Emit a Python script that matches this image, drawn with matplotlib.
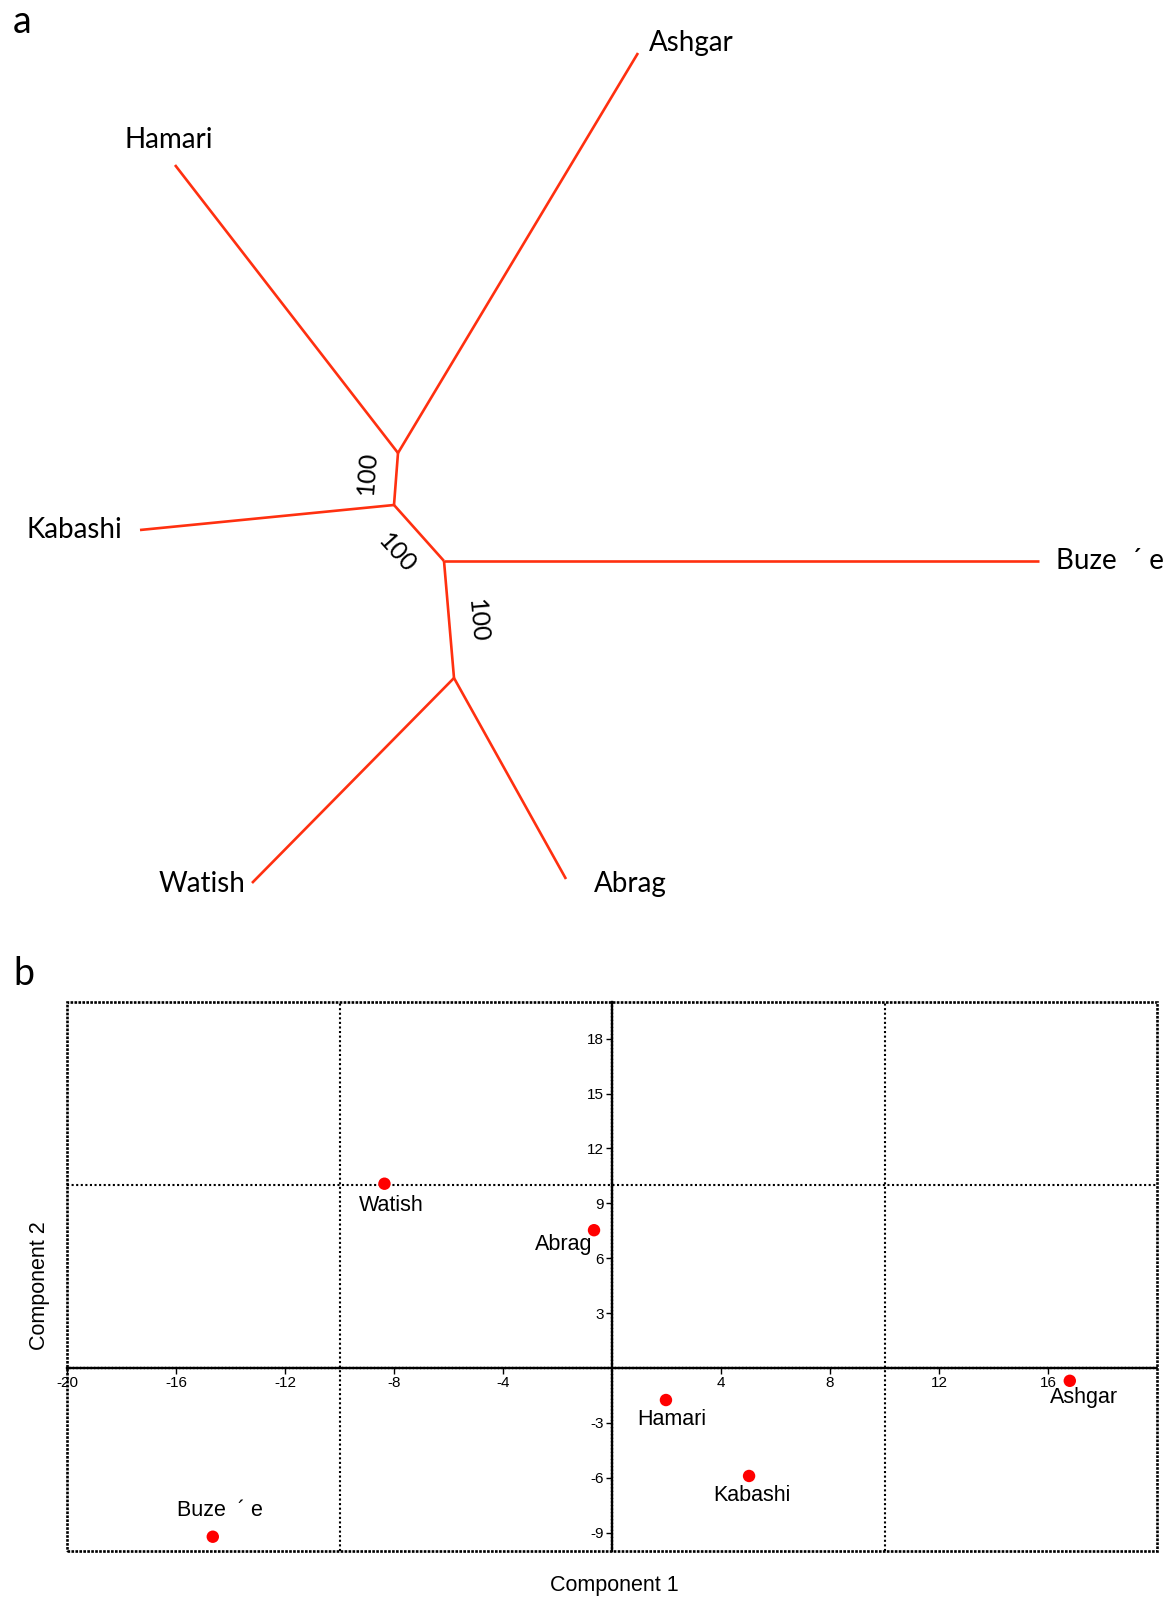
import numpy as np
import matplotlib.pyplot as plt
from matplotlib.patches import Rectangle

W, H = 1164, 1600

# ---- panel a: unrooted tree (layout units = pixels, y downwards) ----
tip_names = ['Ashgar', 'Hamari', 'Kabashi', 'Buze  \u00b4 e', 'Watish', 'Abrag']
tip_x = [638, 175, 140, 1039, 252, 566]
tip_y = [53, 165, 530, 561, 883, 879]
tip_parent = [0, 0, 1, 2, 3, 3]
inner_x = [398, 394, 444, 454]
inner_y = [453, 505, 561, 678]
inner_edges = [(0, 1), (1, 2), (2, 3)]
bootstrap = [100, 100, 100]

# ---- panel b: PCA ----
pop_names = ['Watish', 'Abrag', 'Hamari', 'Kabashi', 'Ashgar', 'Buze  \u00b4 e']
pc1 = [-8.35, -0.66, 1.98, 5.03, 16.8, -14.65]
pc2 = [10.07, 7.53, -1.75, -5.9, -0.7, -9.22]
xticks = [-20, -16, -12, -8, -4, 4, 8, 12, 16]
yticks = [-9, -6, -3, 3, 6, 9, 12, 15, 18]

red_line = '#ff3010'
tree_font = 'Lato'
pca_font = 'Liberation Sans'

fig = plt.figure(figsize=(W / 100, H / 100), dpi=100)

# tree axes covers top part of figure in pixel units
top_h = 940
axa = fig.add_axes([0, 1 - top_h / H, 1, top_h / H])
axa.set_xlim(0, W)
axa.set_ylim(top_h, 0)
axa.axis('off')

for i in range(len(tip_names)):
    p = tip_parent[i]
    axa.plot([tip_x[i], inner_x[p]], [tip_y[i], inner_y[p]], color=red_line,
             lw=1.9, solid_capstyle='butt')
for a, b in inner_edges:
    axa.plot([inner_x[a], inner_x[b]], [inner_y[a], inner_y[b]], color=red_line,
             lw=1.9, solid_capstyle='butt')

# label placement: (dx, dy, ha)
tip_place = {
    'Ashgar': (11, -10, 'left'),
    'Hamari': (-6, -25, 'center'),
    'Kabashi': (-18, 0, 'right'),
    'Buze  \u00b4 e': (17, 0, 'left'),
    'Watish': (-7, 1, 'right'),
    'Abrag': (28, 5, 'left'),
}
for i, name in enumerate(tip_names):
    dx, dy, ha = tip_place[name]
    axa.text(tip_x[i] + dx, tip_y[i] + dy, name, ha=ha, va='center',
             fontsize=20, family=tree_font)

boot_off = [(-29, -6), (-22, 20), (28, 2)]
for k, (a, b) in enumerate(inner_edges):
    mx = (inner_x[a] + inner_x[b]) / 2
    my = (inner_y[a] + inner_y[b]) / 2
    if k == 0:
        ang = np.degrees(np.arctan2(-(inner_y[a] - inner_y[b]), inner_x[a] - inner_x[b]))
    else:
        ang = np.degrees(np.arctan2(-(inner_y[b] - inner_y[a]), inner_x[b] - inner_x[a]))
    axa.text(mx + boot_off[k][0], my + boot_off[k][1], str(bootstrap[k]),
             rotation=ang, rotation_mode='anchor', ha='center', va='center',
             fontsize=18, family=tree_font)

fig.text(13 / W, 1 - 33 / H, 'a', fontsize=27, family=tree_font, va='baseline')
fig.text(13 / W, 1 - 985 / H, 'b', fontsize=27, family=tree_font, va='baseline')

# ---- PCA axes ----
x0, x1, y0, y1 = 67, 1157, 1002, 1551
ax = fig.add_axes([x0 / W, 1 - y1 / H, (x1 - x0) / W, (y1 - y0) / H])
ax.set_xlim(-20, 20)
ax.set_ylim(-10, 20)

dense = (0, (1, 0.5))
for s in ['top', 'right']:
    ax.spines[s].set_visible(False)
for s in ['left', 'bottom']:
    ax.spines[s].set_position(('data', 0))
    ax.spines[s].set_linewidth(1.7)
    ax.spines[s].set_linestyle(dense)
ax.add_patch(Rectangle((0, 0), 1, 1, transform=ax.transAxes, fill=False,
                       lw=1.9, ls=dense, ec='black', clip_on=False, zorder=5))
for v in [-10, 10]:
    ax.axvline(v, color='black', lw=1.5, ls=(0, (1, 1.2)), zorder=1)
ax.axhline(10, color='black', lw=1.5, ls=(0, (1, 1.2)), zorder=1)

ax.set_xticks(xticks)
ax.set_yticks(yticks)
ax.set_xticklabels([str(t) for t in xticks], family=pca_font)
ax.set_yticklabels([str(t) for t in yticks], family=pca_font)
ax.tick_params(direction='out', length=4, width=1, labelsize=11, pad=2)

ax.scatter(pc1, pc2, s=80, color='#ff0000', zorder=4, edgecolors='none')

pca_place = {
    'Watish': (5, -16, 'center'),
    'Abrag': (-1, -10, 'right'),
    'Hamari': (4, -14, 'center'),
    'Kabashi': (2, -14, 'center'),
    'Ashgar': (10, -12, 'center'),
    'Buze  \u00b4 e': (5, 19, 'center'),
}
for name, x, y in zip(pop_names, pc1, pc2):
    dx, dy, ha = pca_place[name]
    ax.annotate(name, (x, y), xytext=(dx, dy), textcoords='offset points',
                ha=ha, va='center', fontsize=15.5, family=pca_font)

fig.text(614 / W, 1 - 1586 / H, 'Component 1', ha='center', va='center',
         fontsize=15.5, family=pca_font)
fig.text(40 / W, 1 - 1286 / H, 'Component 2', ha='center', va='center',
         rotation=90, fontsize=15.5, family=pca_font)

fig.savefig('out.png', dpi=100)
